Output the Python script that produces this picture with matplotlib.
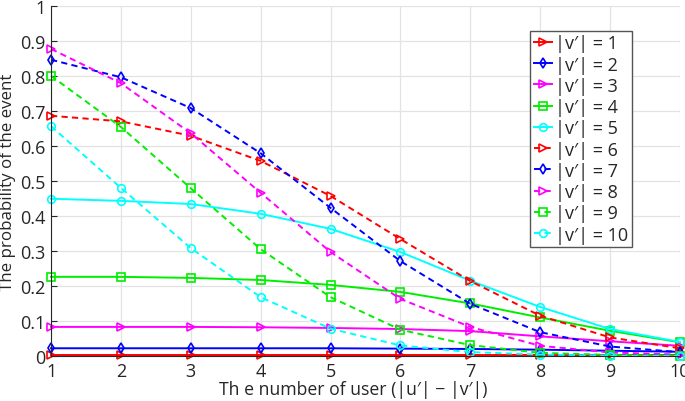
import matplotlib
matplotlib.use("Agg")
import matplotlib.pyplot as plt
import numpy as np

plt.rcParams['font.family'] = ['Open Sans', 'DejaVu Sans']

x = [1, 2, 3, 4, 5, 6, 7, 8, 9, 10]

s1 = [0.003, 0.003, 0.003, 0.003, 0.003, 0.003, 0.003, 0.003, 0.003, 0.003]
s2 = [0.022, 0.022, 0.022, 0.022, 0.022, 0.021, 0.020, 0.018, 0.015, 0.012]
s3 = [0.083, 0.083, 0.083, 0.082, 0.080, 0.077, 0.071, 0.056, 0.042, 0.029]
s4 = [0.226, 0.226, 0.223, 0.217, 0.203, 0.183, 0.150, 0.110, 0.072, 0.039]
s5 = [0.449, 0.443, 0.434, 0.406, 0.363, 0.297, 0.215, 0.140, 0.077, 0.040]
s6 = [0.686, 0.670, 0.629, 0.557, 0.457, 0.334, 0.214, 0.115, 0.053, 0.022]
s7 = [0.846, 0.796, 0.708, 0.579, 0.423, 0.271, 0.149, 0.068, 0.027, 0.011]
s8 = [0.877, 0.779, 0.636, 0.466, 0.297, 0.163, 0.083, 0.029, 0.010, 0.004]
s9 = [0.800, 0.654, 0.479, 0.305, 0.168, 0.075, 0.031, 0.009, 0.003, 0.001]
s10 = [0.656, 0.480, 0.308, 0.168, 0.078, 0.030, 0.011, 0.004, 0.001, 0.000]

series = [s1, s2, s3, s4, s5, s6, s7, s8, s9, s10]
labels = ["|v\u2032| = %d" % i for i in range(1, 11)]
colors = ['#ff0000', '#0000ff', '#ff00ff', '#00ee00', '#00ffff',
          '#ff0000', '#0000ff', '#ff00ff', '#00ee00', '#00ffff']
markers = ['>', 'd', '>', 's', 'o', '>', 'd', '>', 's', 'o']
styles = ['-', '-', '-', '-', '-', '--', '--', '--', '--', '--']

fig = plt.figure(figsize=(6.85, 4.02), dpi=100)
ax = fig.add_axes([0.0745, 0.112, 0.918, 0.871])

for ys, lab, c, m, ls in zip(series, labels, colors, markers, styles):
    kw = dict(dashes=(3.2, 2.2)) if ls == '--' else {}
    ax.plot(x, ys, linestyle=ls, color=c, marker=m, markersize=5.5,
            markerfacecolor='none', markeredgewidth=1.2, linewidth=1.4,
            label=lab, clip_on=False, **kw)

ax.set_xlim(1, 10)
ax.set_ylim(0, 1)
ax.set_xticks(x)
yt = np.round(np.arange(0, 1.01, 0.1), 1)
ax.set_yticks(yt)
ax.set_yticklabels(['0', '0.1', '0.2', '0.3', '0.4', '0.5', '0.6', '0.7', '0.8', '0.9', '1'])
ax.grid(True, color='#e3e3e3', linewidth=0.9)
ax.set_axisbelow(True)
for sp in ['top', 'right']:
    ax.spines[sp].set_visible(False)
for sp in ['left', 'bottom']:
    ax.spines[sp].set_color('#262626')
    ax.spines[sp].set_linewidth(0.8)
ax.tick_params(direction='in', length=4, colors='#262626', labelsize=13,
               labelcolor='#262626', pad=4)

ax.set_xlabel("Th e number of user (|u\u2032| \u2212 |v\u2032|)", fontsize=12.7,
              color='#262626')
ax.xaxis.set_label_coords(0.48, -0.094)
ax.xaxis.label.set_va('center')
ax.set_ylabel("The probability of the event", fontsize=12.2, color='#262626')
ax.yaxis.set_label_coords(-0.069, 0.5)
ax.yaxis.label.set_va('center')

leg = ax.legend(loc='upper right', bbox_to_anchor=(0.924, 0.929), fontsize=13,
                frameon=True, fancybox=False, edgecolor='#555555',
                handlelength=1.0, handletextpad=0.2, borderpad=0.2,
                labelspacing=0.18, borderaxespad=0, framealpha=1)
leg.get_frame().set_linewidth(1.0)
for t in leg.get_texts():
    t.set_color('#262626')

fig.savefig("out.png", dpi=100)
